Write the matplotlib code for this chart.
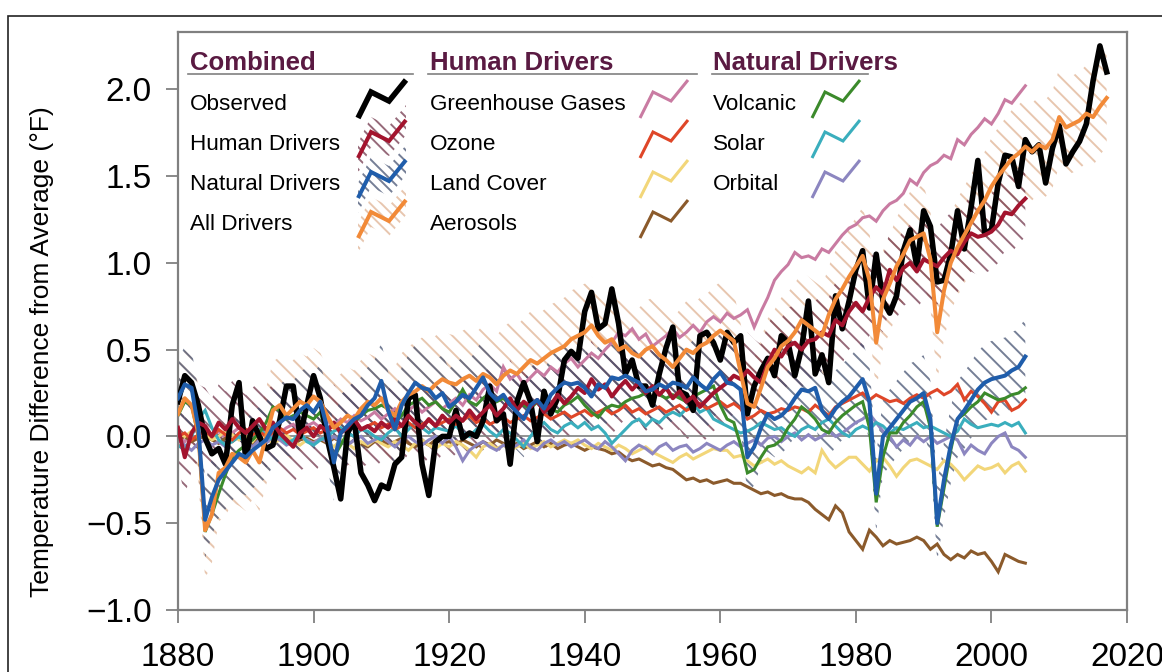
import matplotlib
matplotlib.use("Agg")
import matplotlib.pyplot as plt
import numpy as np
from matplotlib.lines import Line2D
from matplotlib.patches import Polygon, Rectangle

plt.rcParams['font.family'] = ['Liberation Sans', 'DejaVu Sans']
plt.rcParams['hatch.linewidth'] = 1.4

# ---------------------------------------------------------------- data (°F)
obs_years = list(range(1880, 2018))
observed = [
    0.20, 0.35, 0.31, 0.18, -0.01, -0.10, -0.07, -0.16, 0.18, 0.31,
    -0.14, 0.09, 0.00, -0.07, -0.05, 0.09, 0.29, 0.29, 0.00, 0.18,
    0.35, 0.22, -0.01, -0.18, -0.36, 0.02, 0.09, -0.21, -0.28, -0.37,
    -0.28, -0.30, -0.16, -0.12, 0.22, 0.24, -0.16, -0.34, -0.03, 0.00,
    0.00, 0.15, -0.01, 0.02, 0.00, 0.09, 0.29, 0.09, 0.13, -0.16,
    0.20, 0.31, 0.20, -0.03, 0.26, 0.13, 0.22, 0.44, 0.49, 0.45,
    0.72, 0.83, 0.62, 0.65, 0.85, 0.65, 0.36, 0.44, 0.29, 0.29,
    0.18, 0.36, 0.51, 0.63, 0.26, 0.24, 0.15, 0.58, 0.60, 0.54,
    0.44, 0.60, 0.54, 0.58, 0.13, 0.29, 0.38, 0.45, 0.35, 0.58,
    0.54, 0.35, 0.51, 0.78, 0.36, 0.47, 0.31, 0.81, 0.62, 0.78,
    0.96, 1.07, 0.74, 1.05, 0.78, 0.71, 0.81, 1.07, 1.19, 0.98,
    1.30, 1.21, 0.89, 0.90, 1.05, 1.30, 1.08, 1.32, 1.59, 1.17,
    1.19, 1.46, 1.62, 1.61, 1.44, 1.71, 1.64, 1.68, 1.46, 1.66,
    1.79, 1.57, 1.64, 1.70, 1.80, 2.05, 2.25, 2.10,
]

model_years = list(range(1880, 2006))
all_years = list(range(1880, 2018))

human_drivers = [
    0.05, -0.12, 0.02, 0.08, 0.06, 0.00, 0.08, 0.04, 0.10, 0.05,
    0.02, 0.06, 0.10, 0.04, 0.08, 0.02, -0.02, -0.06, 0.02, 0.05,
    0.00, 0.06, 0.03, 0.08, 0.02, 0.05, 0.10, 0.04, 0.06, 0.03,
    0.08, 0.05, 0.10, 0.06, 0.12, 0.08, 0.05, 0.10, 0.06, 0.12,
    0.08, 0.12, 0.09, 0.15, 0.10, 0.14, 0.18, 0.12, 0.16, 0.22,
    0.15, 0.20, 0.17, 0.21, 0.14, 0.18, 0.24, 0.19, 0.23, 0.28,
    0.25, 0.33, 0.27, 0.30, 0.23, 0.28, 0.32, 0.27, 0.31, 0.25,
    0.29, 0.24, 0.28, 0.22, 0.26, 0.20, 0.23, 0.17, 0.21, 0.25,
    0.28, 0.31, 0.35, 0.33, 0.38, 0.34, 0.31, 0.42, 0.50, 0.46,
    0.52, 0.54, 0.50, 0.55, 0.56, 0.60, 0.58, 0.67, 0.64, 0.72,
    0.77, 0.72, 0.80, 0.86, 0.82, 0.96, 0.90, 0.97, 1.00, 0.95,
    1.02, 1.00, 0.98, 1.03, 1.07, 1.05, 1.12, 1.17, 1.15, 1.16,
    1.18, 1.22, 1.29, 1.28, 1.33, 1.37,
]

natural_drivers = [
    0.22, 0.30, 0.28, 0.05, -0.48, -0.35, -0.25, -0.20, -0.15, -0.10,
    -0.12, -0.08, -0.05, -0.02, 0.05, 0.08, 0.11, 0.10, 0.15, 0.18,
    0.14, 0.20, 0.05, -0.15, 0.02, 0.06, 0.10, 0.12, 0.18, 0.22,
    0.32, 0.15, 0.04, 0.18, 0.25, 0.31, 0.28, 0.27, 0.22, 0.25,
    0.17, 0.20, 0.24, 0.22, 0.28, 0.34, 0.25, 0.21, 0.24, 0.18,
    0.14, 0.10, 0.18, 0.21, 0.16, 0.24, 0.28, 0.31, 0.30, 0.31,
    0.28, 0.23, 0.30, 0.28, 0.34, 0.33, 0.35, 0.33, 0.31, 0.26,
    0.27, 0.30, 0.28, 0.31, 0.30, 0.28, 0.34, 0.30, 0.27, 0.33,
    0.37, 0.31, 0.30, 0.27, -0.12, -0.06, 0.05, 0.13, 0.10, 0.12,
    0.16, 0.22, 0.27, 0.26, 0.28, 0.15, 0.10, 0.16, 0.20, 0.23,
    0.28, 0.33, 0.20, -0.33, 0.00, 0.05, 0.10, 0.15, 0.20, 0.22,
    0.25, 0.10, -0.50, -0.25, -0.05, 0.10, 0.15, 0.21, 0.27, 0.31,
    0.33, 0.34, 0.35, 0.38, 0.40, 0.46,
]

all_drivers = [
    0.13, 0.22, 0.18, 0.02, -0.54, -0.45, -0.21, -0.18, -0.10, -0.12,
    -0.15, -0.08, -0.15, 0.00, 0.15, 0.18, 0.12, 0.16, 0.20, 0.18,
    0.23, 0.20, 0.12, 0.05, 0.08, 0.12, 0.10, 0.16, 0.20, 0.18,
    0.22, 0.15, 0.12, 0.20, 0.24, 0.26, 0.29, 0.26, 0.30, 0.33,
    0.31, 0.30, 0.33, 0.35, 0.32, 0.36, 0.34, 0.30, 0.35, 0.38,
    0.36, 0.40, 0.44, 0.42, 0.45, 0.48, 0.50, 0.52, 0.56, 0.58,
    0.60, 0.64, 0.58, 0.54, 0.56, 0.50, 0.52, 0.48, 0.46, 0.50,
    0.52, 0.47, 0.44, 0.40, 0.45, 0.50, 0.48, 0.52, 0.54, 0.58,
    0.61, 0.58, 0.55, 0.37, 0.19, 0.17, 0.28, 0.40, 0.45, 0.52,
    0.55, 0.60, 0.67, 0.64, 0.61, 0.58, 0.70, 0.79, 0.85, 0.92,
    0.98, 1.04, 0.90, 0.54, 0.79, 0.88, 0.98, 1.05, 1.13, 1.15,
    1.17, 1.02, 0.60, 0.84, 1.00, 1.09, 1.16, 1.23, 1.30, 1.36,
    1.44, 1.50, 1.55, 1.60, 1.63, 1.67, 1.64, 1.68, 1.66, 1.71,
    1.84, 1.78, 1.80, 1.82, 1.86, 1.84, 1.90, 1.95,
]

greenhouse_gases = [
    0.00, -0.03, 0.02, 0.04, -0.02, 0.01, 0.03, -0.01, 0.02, 0.05,
    0.02, 0.04, 0.00, 0.03, 0.06, 0.02, 0.05, 0.07, 0.03, 0.06,
    0.08, 0.05, 0.09, 0.06, 0.10, 0.08, 0.12, 0.09, 0.11, 0.14,
    0.10, 0.13, 0.16, 0.12, 0.15, 0.18, 0.14, 0.17, 0.20, 0.16,
    0.19, 0.22, 0.18, 0.24, 0.21, 0.27, 0.30, 0.26, 0.40, 0.33,
    0.36, 0.30, 0.34, 0.38, 0.35, 0.40, 0.37, 0.42, 0.45, 0.40,
    0.44, 0.48, 0.45, 0.50, 0.54, 0.60, 0.58, 0.62, 0.56, 0.59,
    0.52, 0.55, 0.58, 0.62, 0.57, 0.60, 0.64, 0.60, 0.66, 0.69,
    0.66, 0.71, 0.68, 0.70, 0.73, 0.63, 0.72, 0.80, 0.90, 0.95,
    0.99, 1.06, 1.03, 1.04, 1.02, 1.08, 1.06, 1.11, 1.16, 1.20,
    1.22, 1.26, 1.27, 1.24, 1.30, 1.34, 1.36, 1.40, 1.48, 1.45,
    1.52, 1.56, 1.58, 1.62, 1.60, 1.71, 1.68, 1.74, 1.78, 1.83,
    1.80, 1.86, 1.94, 1.92, 1.97, 2.02,
]

ozone = [
    0.00, 0.02, -0.02, 0.01, 0.03, 0.00, 0.04, 0.01, -0.02, 0.02,
    0.04, 0.01, 0.03, 0.00, 0.02, 0.05, 0.02, 0.04, 0.01, 0.03,
    0.05, 0.02, 0.04, 0.06, 0.03, 0.05, 0.07, 0.04, 0.06, 0.08,
    0.05, 0.07, 0.04, 0.06, 0.08, 0.05, 0.07, 0.09, 0.06, 0.08,
    0.10, 0.07, 0.09, 0.12, 0.08, 0.10, 0.07, 0.09, 0.11, 0.08,
    0.10, 0.12, 0.09, 0.11, 0.13, 0.10, 0.12, 0.14, 0.11, 0.13,
    0.15, 0.12, 0.14, 0.16, 0.13, 0.15, 0.18, 0.14, 0.16, 0.13,
    0.15, 0.17, 0.14, 0.16, 0.18, 0.15, 0.17, 0.19, 0.16, 0.18,
    0.20, 0.17, 0.19, 0.16, 0.10, 0.12, 0.15, 0.13, 0.14, 0.16,
    0.15, 0.17, 0.16, 0.14, 0.18, 0.15, 0.12, 0.17, 0.19, 0.21,
    0.23, 0.25, 0.21, 0.24, 0.22, 0.20, 0.21, 0.19, 0.22, 0.24,
    0.22, 0.25, 0.27, 0.24, 0.26, 0.30, 0.21, 0.26, 0.23, 0.19,
    0.14, 0.20, 0.21, 0.15, 0.17, 0.21,
]

land_cover = [
    0.02, 0.00, 0.03, 0.05, 0.02, -0.02, 0.00, 0.03, 0.01, -0.02,
    0.00, -0.03, 0.02, 0.00, -0.04, -0.02, 0.01, -0.03, -0.05, -0.02,
    -0.04, -0.01, -0.03, -0.06, -0.02, -0.04, -0.07, -0.03, -0.05, -0.02,
    -0.04, -0.06, -0.03, -0.05, -0.08, -0.04, -0.02, -0.05, -0.07, -0.04,
    -0.06, -0.03, -0.05, -0.08, -0.12, -0.06, -0.04, -0.07, -0.05, -0.08,
    -0.06, -0.04, -0.07, -0.05, -0.03, -0.06, -0.04, -0.02, -0.04, -0.02,
    -0.05, -0.07, -0.04, -0.06, -0.08, -0.05, -0.07, -0.10, -0.08, -0.06,
    -0.09, -0.11, -0.13, -0.15, -0.12, -0.10, -0.13, -0.11, -0.09, -0.07,
    -0.08, -0.08, -0.12, -0.11, -0.14, -0.17, -0.15, -0.13, -0.16, -0.14,
    -0.17, -0.19, -0.21, -0.18, -0.21, -0.08, -0.14, -0.18, -0.15, -0.12,
    -0.12, -0.16, -0.20, -0.14, -0.12, -0.17, -0.23, -0.18, -0.14, -0.13,
    -0.15, -0.17, -0.19, -0.14, -0.16, -0.20, -0.25, -0.21, -0.17, -0.19,
    -0.18, -0.16, -0.21, -0.17, -0.15, -0.20,
]

aerosols = [
    -0.02, 0.00, -0.03, -0.01, 0.00, -0.02, -0.04, -0.01, -0.03, 0.00,
    -0.02, -0.04, -0.01, -0.03, -0.02, 0.00, -0.03, -0.05, -0.02, -0.01,
    -0.03, -0.02, -0.04, -0.01, -0.03, -0.05, -0.02, -0.04, -0.06, -0.03,
    -0.02, -0.05, -0.03, -0.01, -0.04, -0.06, -0.03, -0.05, -0.02, -0.04,
    -0.03, -0.05, -0.02, -0.04, -0.06, -0.03, -0.05, -0.02, -0.04, -0.06,
    -0.04, -0.07, -0.05, -0.03, -0.06, -0.04, -0.07, -0.05, -0.04, -0.06,
    -0.08, -0.06, -0.07, -0.08, -0.10, -0.09, -0.12, -0.14, -0.13, -0.15,
    -0.17, -0.16, -0.18, -0.19, -0.22, -0.25, -0.24, -0.26, -0.25, -0.27,
    -0.26, -0.25, -0.27, -0.27, -0.29, -0.31, -0.33, -0.32, -0.34, -0.33,
    -0.35, -0.36, -0.36, -0.38, -0.42, -0.45, -0.48, -0.40, -0.44, -0.55,
    -0.60, -0.65, -0.54, -0.58, -0.63, -0.60, -0.62, -0.61, -0.60, -0.58,
    -0.60, -0.65, -0.62, -0.68, -0.71, -0.68, -0.70, -0.66, -0.68, -0.67,
    -0.72, -0.78, -0.68, -0.70, -0.72, -0.73,
]

volcanic = [
    0.12, 0.20, 0.18, 0.00, -0.55, -0.45, -0.33, -0.22, -0.12, -0.08,
    -0.05, -0.02, 0.02, 0.08, 0.17, 0.15, 0.10, 0.12, 0.14, 0.12,
    0.10, 0.14, 0.00, -0.12, -0.05, 0.02, 0.08, 0.12, 0.15, 0.16,
    0.18, 0.16, 0.08, 0.12, 0.18, 0.20, 0.22, 0.18, 0.20, 0.16,
    0.14, 0.20, 0.27, 0.20, 0.18, 0.22, 0.25, 0.20, 0.22, 0.18,
    0.20, 0.18, 0.16, 0.20, 0.18, 0.16, 0.14, 0.18, 0.20, 0.23,
    0.18, 0.14, 0.11, 0.16, 0.18, 0.17, 0.20, 0.22, 0.23, 0.25,
    0.27, 0.24, 0.22, 0.24, 0.22, 0.20, 0.23, 0.25, 0.27, 0.29,
    0.18, 0.10, 0.08, -0.05, -0.21, -0.19, -0.12, -0.06, -0.05, -0.02,
    0.05, 0.10, 0.17, 0.14, 0.10, 0.04, 0.02, 0.08, 0.12, 0.15,
    0.18, 0.20, 0.05, -0.38, -0.12, 0.02, 0.02, 0.08, 0.12, 0.17,
    0.20, 0.05, -0.52, -0.30, -0.08, 0.10, 0.13, 0.17, 0.20, 0.25,
    0.23, 0.21, 0.22, 0.24, 0.25, 0.28,
]

solar = [
    -0.05, -0.08, 0.00, 0.10, 0.15, 0.05, -0.02, -0.05, -0.03, 0.00,
    -0.04, 0.02, 0.04, 0.01, -0.02, 0.00, -0.04, -0.02, 0.02, -0.03,
    -0.05, -0.02, 0.00, 0.03, 0.05, 0.02, 0.00, 0.04, 0.03, 0.00,
    -0.02, 0.02, 0.05, 0.00, 0.04, 0.08, 0.05, 0.02, 0.05, 0.04,
    0.03, 0.06, 0.02, 0.00, 0.04, 0.07, 0.03, 0.00, 0.04, 0.02,
    -0.02, -0.06, 0.00, 0.05, 0.08, 0.04, 0.02, 0.06, 0.08, 0.05,
    0.08, 0.04, 0.06, 0.02, -0.04, 0.00, 0.04, 0.08, 0.10, 0.06,
    0.10, 0.08, 0.12, 0.14, 0.12, 0.16, 0.19, 0.14, 0.16, 0.10,
    0.08, 0.06, 0.04, 0.02, 0.03, 0.05, 0.08, 0.06, 0.04, 0.05,
    0.02, 0.00, 0.04, 0.06, 0.04, 0.08, 0.10, 0.06, 0.02, 0.00,
    0.04, 0.06, 0.04, 0.08, 0.06, 0.02, 0.05, 0.04, 0.06, 0.08,
    0.05, 0.06, 0.04, 0.02, 0.00, 0.03, 0.10, 0.07, 0.05, 0.06,
    0.07, 0.06, 0.08, 0.06, 0.08, 0.02,
]

orbital = [
    -0.02, -0.05, -0.08, -0.04, -0.02, -0.05, -0.03, -0.06, -0.02, 0.00,
    -0.03, -0.06, -0.02, -0.04, 0.00, -0.02, -0.05, -0.03, 0.00, -0.02,
    -0.04, -0.01, -0.03, 0.00, -0.03, -0.05, -0.02, 0.00, -0.04, -0.02,
    0.00, -0.03, -0.06, -0.02, 0.00, -0.03, -0.05, -0.02, 0.00, -0.04,
    0.00, -0.06, -0.14, -0.08, -0.05, -0.03, -0.06, -0.08, -0.05, -0.07,
    -0.05, -0.02, -0.06, -0.08, -0.04, -0.02, -0.05, -0.03, -0.06, -0.04,
    -0.02, -0.05, -0.07, -0.03, -0.06, -0.10, -0.14, -0.08, -0.05, -0.07,
    -0.10, -0.06, -0.04, -0.08, -0.06, -0.05, -0.09, -0.07, -0.04, -0.06,
    -0.08, -0.05, -0.03, -0.06, -0.04, -0.02, -0.05, -0.01, 0.00, -0.03,
    0.00, 0.02, -0.02, 0.01, -0.02, 0.00, 0.03, 0.00, 0.02, 0.05,
    0.08, 0.10, 0.13, 0.08, 0.03, 0.00, -0.06, -0.02, -0.05, 0.00,
    -0.03, 0.00, -0.04, -0.02, 0.00, -0.02, -0.10, -0.05, -0.08, -0.10,
    -0.04, 0.00, 0.02, -0.06, -0.08, -0.12,
]

# half-widths of the model spread bands
human_spread = 0.22
natural_spread = 0.22
all_spread = 0.28

y_ticks = [-1.0, -0.5, 0.0, 0.5, 1.0, 1.5, 2.0]
y_tick_labels = ['\u22121.0', '\u22120.5', '0.0', '0.5', '1.0', '1.5', '2.0']
x_ticks = [1880, 1900, 1920, 1940, 1960, 1980, 2000, 2020]

# ---------------------------------------------------------------- colours
C_OBS = '#000000'
C_HUMAN = '#a3142e'
C_NATURAL = '#1f5dab'
C_ALL = '#f28a38'
C_GHG = '#c97ba2'
C_OZONE = '#df4628'
C_LAND = '#f2d679'
C_AERO = '#8b5a2b'
C_VOLC = '#3b8a2b'
C_SOLAR = '#3aaebd'
C_ORB = '#8c86c0'
C_HEAD = '#5a1a42'
C_GRID = '#808080'

HATCH_HUMAN = (0.45, 0.22, 0.30, 0.75)
HATCH_NATURAL = (0.28, 0.33, 0.45, 0.75)
HATCH_ALL = (0.88, 0.70, 0.58, 0.75)

# ---------------------------------------------------------------- figure
W, H = 1162, 672
fig = plt.figure(figsize=(W / 100, H / 100), dpi=100)
ax = fig.add_axes([178 / W, 62 / H, 949 / W, 578 / H])

my = np.array(model_years)
ay = np.array(all_years)
hd = np.array(human_drivers)
nd = np.array(natural_drivers)
ad = np.array(all_drivers)

ax.fill_between(ay, ad - all_spread, ad + all_spread, facecolor='none',
                edgecolor=HATCH_ALL, hatch='\\\\', linewidth=0, zorder=1)
ax.fill_between(my, hd - human_spread, hd + human_spread, facecolor='none',
                edgecolor=HATCH_HUMAN, hatch='\\\\', linewidth=0, zorder=1.1)
ax.fill_between(my, nd - natural_spread, nd + natural_spread, facecolor='none',
                edgecolor=HATCH_NATURAL, hatch='\\\\', linewidth=0, zorder=1.2)

ax.axhline(0, color=C_GRID, lw=1.2, zorder=1.5)

thin = 2.2
for vals, col in [(greenhouse_gases, C_GHG), (aerosols, C_AERO), (land_cover, C_LAND),
                  (orbital, C_ORB), (solar, C_SOLAR), (ozone, C_OZONE), (volcanic, C_VOLC)]:
    ax.plot(my, vals, color=col, lw=thin, solid_joinstyle='miter', zorder=2)

ax.plot(obs_years, observed, color=C_OBS, lw=4.0, zorder=3)
ax.plot(my, hd, color=C_HUMAN, lw=2.9, zorder=4)
ax.plot(ay, ad, color=C_ALL, lw=2.9, zorder=4.1)
ax.plot(my, nd, color=C_NATURAL, lw=2.9, zorder=4.2)

ax.set_xlim(1880, 2020)
ax.set_ylim(-1.0, 2.33)
ax.set_xticks(x_ticks)
ax.set_xticklabels([str(v) for v in x_ticks])
ax.set_yticks(y_ticks)
ax.set_yticklabels(y_tick_labels)
ax.tick_params(direction='out', length=9, width=1.3, color=C_GRID,
               labelsize=24, labelcolor='black')
ax.tick_params(axis='y', pad=10)
ax.tick_params(axis='x', pad=14)
for s in ax.spines.values():
    s.set_color(C_GRID)
    s.set_linewidth(1.6)

fig.text(42 / W, 1 - 352 / H, 'Temperature Difference from Average (\u00b0F)',
         rotation=90, ha='center', va='center', fontsize=19)

# outer frame
fig.patches.append(Rectangle((8 / W, -0.1), 1.2, 1 - 16 / H + 0.1,
                             transform=fig.transFigure, fill=False,
                             edgecolor='#222222', lw=1.2))

# ---------------------------------------------------------------- legend
T = fig.transFigure


def fx(px):
    return px / W


def fy(py):
    return 1 - py / H


ZIG = [(-24, 18), (-11, -8), (7, 1), (24, -20)]


def legend_icon(cx, cy, color, lw, hatch_col=None):
    if hatch_col is not None:
        top = [(cx + dx, cy + dy - 15) for dx, dy in ZIG]
        bot = [(cx + dx, cy + dy + 15) for dx, dy in ZIG][::-1]
        pts = [(fx(x), fy(y)) for x, y in top + bot]
        fig.patches.append(Polygon(pts, closed=True, transform=T, facecolor='none',
                                   edgecolor=hatch_col, hatch='\\\\\\', lw=0))
    xs = [fx(cx + dx) for dx, dy in ZIG]
    ys = [fy(cy + dy) for dx, dy in ZIG]
    fig.lines.append(Line2D(xs, ys, transform=T, color=color, lw=lw,
                            solid_joinstyle='miter', solid_capstyle='butt'))


columns = [
    ('Combined', 190, 188, 413, 382,
     [('Observed', C_OBS, 4.0, None),
      ('Human Drivers', C_HUMAN, 2.9, HATCH_HUMAN),
      ('Natural Drivers', C_NATURAL, 2.9, HATCH_NATURAL),
      ('All Drivers', C_ALL, 2.9, HATCH_ALL)]),
    ('Human Drivers', 430, 428, 697, 664,
     [('Greenhouse Gases', C_GHG, thin, None),
      ('Ozone', C_OZONE, thin, None),
      ('Land Cover', C_LAND, thin, None),
      ('Aerosols', C_AERO, thin, None)]),
    ('Natural Drivers', 713, 712, 868, 836,
     [('Volcanic', C_VOLC, thin, None),
      ('Solar', C_SOLAR, thin, None),
      ('Orbital', C_ORB, thin, None)]),
]

for head, tx, ux0, ux1, icx, entries in columns:
    fig.text(fx(tx), fy(70), head, fontsize=18.5, fontweight='bold',
             color=C_HEAD, ha='left', va='baseline')
    fig.lines.append(Line2D([fx(ux0), fx(ux1)], [fy(74), fy(74)], transform=T,
                            color=C_GRID, lw=1.2))
    for i, (name, col, lw, hcol) in enumerate(entries):
        base = 110 + 40 * i
        fig.text(fx(tx), fy(base), name, fontsize=16.2, color='black',
                 ha='left', va='baseline')
        legend_icon(icx, base - 10, col, lw, hcol)

fig.savefig('out.png', dpi=100)
